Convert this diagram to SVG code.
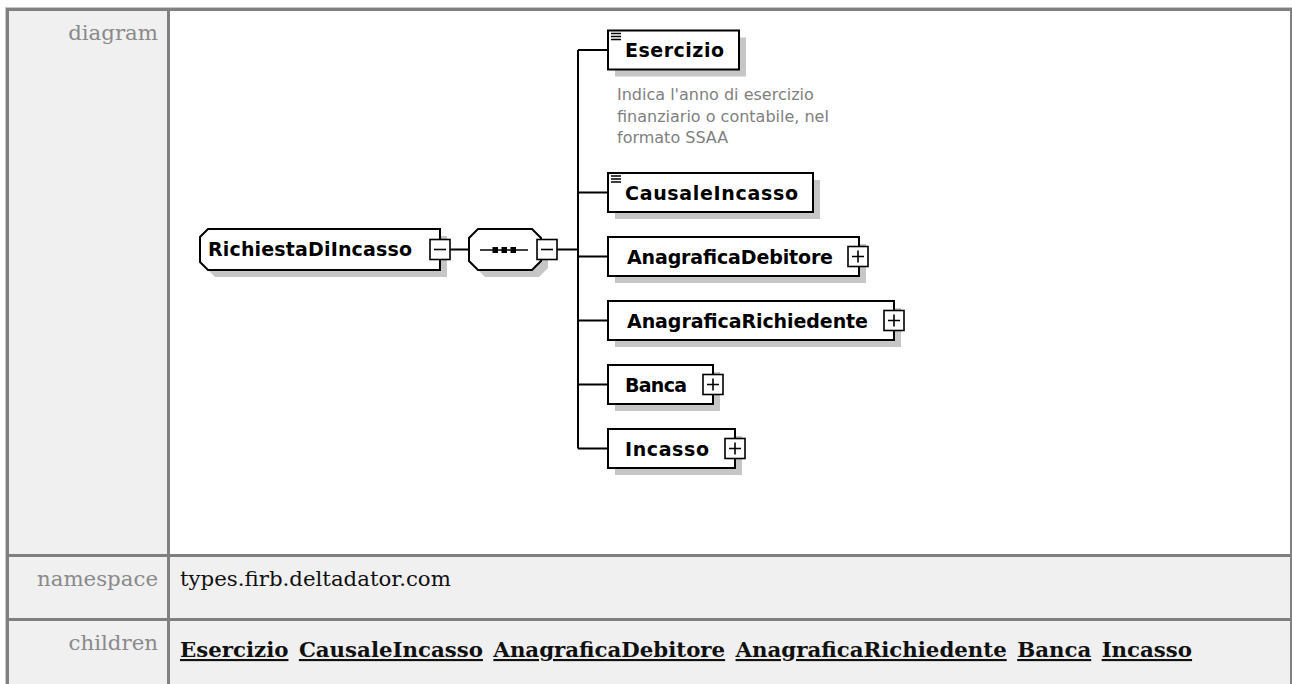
<svg xmlns="http://www.w3.org/2000/svg" width="1292" height="684" viewBox="0 0 1292 684">
  <style>
    .label { font-family: "DejaVu Serif", "Liberation Serif", serif; font-size: 21.3px; fill: #8a8a8a; text-anchor: end; }
    .value { font-family: "DejaVu Serif", "Liberation Serif", serif; font-size: 21.3px; fill: #111; }
    .links { font-family: "DejaVu Serif", "Liberation Serif", serif; font-size: 21.3px; font-weight: bold; fill: #111; word-spacing: 3px; }
    .u { text-decoration: underline; }
    .rule { fill: #808080; }
    .box { fill: #fff; stroke: #000; stroke-width: 2; }
    .shadow { fill: #c6c6c6; }
    .name { font-family: "DejaVu Sans", Verdana, sans-serif; font-size: 19px; font-weight: bold; fill: #000; }
    .note { font-family: "DejaVu Sans", Verdana, sans-serif; font-size: 16px; fill: #808080; }
    .wire { stroke: #000; stroke-width: 2; fill: none; }
    .tog { fill: #fff; stroke: #000; stroke-width: 1.6; }
    .mark { stroke: #000; stroke-width: 1.6; fill: none; }
  </style>

  <!-- table cells -->
  <rect x="6" y="8" width="1286" height="676" fill="#f0f0f0"/>
  <rect x="170" y="11" width="1120" height="543" fill="#fff"/>

  <!-- table rules -->
  <rect x="5" y="7" width="1287" height="1" fill="#c8c8c8"/>
  <rect x="5" y="7" width="1" height="677" fill="#c8c8c8"/>
  <rect class="rule" x="6" y="8" width="1286" height="3"/>
  <rect class="rule" x="6" y="8" width="3" height="676"/>
  <rect class="rule" x="1290" y="8" width="2" height="676"/>
  <rect class="rule" x="167" y="8" width="3" height="676"/>
  <rect class="rule" x="6" y="554" width="1286" height="3"/>
  <rect class="rule" x="6" y="618" width="1286" height="3"/>

  <!-- row labels -->
  <text class="label" x="158" y="40">diagram</text>
  <text class="label" x="158" y="586">namespace</text>
  <text class="label" x="158" y="650">children</text>

  <text class="value" x="180" y="586">types.firb.deltadator.com</text>
  <text class="links" x="180" y="657"><tspan class="u">Esercizio</tspan> <tspan class="u">CausaleIncasso</tspan> <tspan class="u">AnagraficaDebitore</tspan> <tspan class="u">AnagraficaRichiedente</tspan> <tspan class="u">Banca</tspan> <tspan class="u">Incasso</tspan></text>

  <!-- connectors -->
  <g id="connectors">
    <line class="wire" x1="450" y1="249.5" x2="469" y2="249.5"/>
    <line class="wire" x1="557" y1="249.5" x2="578" y2="249.5"/>
    <line class="wire" x1="578" y1="50" x2="578" y2="448.5"/>
    <line class="wire" x1="578" y1="50" x2="608" y2="50"/>
    <line class="wire" x1="578" y1="192.5" x2="608" y2="192.5"/>
    <line class="wire" x1="578" y1="256.5" x2="608" y2="256.5"/>
    <line class="wire" x1="578" y1="320.5" x2="608" y2="320.5"/>
    <line class="wire" x1="578" y1="384.5" x2="608" y2="384.5"/>
    <line class="wire" x1="578" y1="448.5" x2="608" y2="448.5"/>
  </g>

  <!-- root element -->
  <g id="node-RichiestaDiIncasso">
    <path class="shadow" d="M215,236 L447,236 L447,277 L215,277 L207,269 L207,244 Z"/>
    <path class="box" d="M208,229 L440,229 L440,270 L208,270 L200,262 L200,237 Z"/>
    <text class="name" x="208" y="256" textLength="204">RichiestaDiIncasso</text>
    <rect class="tog" x="430" y="239.5" width="20" height="20"/>
    <line class="mark" x1="434" y1="249.5" x2="446" y2="249.5"/>
  </g>

  <!-- sequence compositor -->
  <g id="node-sequence">
    <path class="shadow" d="M485,236 L539,236 L548,245 L548,268 L539,277 L485,277 L476,268 L476,245 Z"/>
    <path class="box" d="M478,229 L532,229 L541,238 L541,261 L532,270 L478,270 L469,261 L469,238 Z"/>
    <line class="mark" x1="480" y1="250" x2="528" y2="250"/>
    <rect x="492.5" y="247" width="5.5" height="6" fill="#000"/>
    <rect x="501.5" y="247" width="5.5" height="6" fill="#000"/>
    <rect x="510.5" y="247" width="5.5" height="6" fill="#000"/>
    <rect class="tog" x="537" y="239.5" width="20" height="20"/>
    <line class="mark" x1="541" y1="249.5" x2="553" y2="249.5"/>
  </g>

  <!-- child elements -->
  <g id="node-Esercizio">
    <rect class="shadow" x="615" y="37.5" width="131" height="39"/>
    <rect class="box" x="608" y="30.5" width="131" height="39"/>
    <path class="mark" d="M611,33.5 H621 M611,36.5 H621 M611,39.5 H621" stroke-width="1.2"/>
    <text class="name" x="625" y="57" textLength="99">Esercizio</text>
    <text class="note" x="617" y="100">Indica l'anno di esercizio</text>
    <text class="note" x="617" y="121.5">finanziario o contabile, nel</text>
    <text class="note" x="617" y="143">formato SSAA</text>
  </g>

  <g id="node-CausaleIncasso">
    <rect class="shadow" x="615" y="180" width="205" height="39"/>
    <rect class="box" x="608" y="173" width="205" height="39"/>
    <path class="mark" d="M611,176 H621 M611,179 H621 M611,182 H621" stroke-width="1.2"/>
    <text class="name" x="625" y="200" textLength="173">CausaleIncasso</text>
  </g>

  <g id="node-AnagraficaDebitore">
    <rect class="shadow" x="615" y="244" width="251" height="39"/>
    <rect class="box" x="608" y="237" width="251" height="39"/>
    <text class="name" x="627" y="264" textLength="206">AnagraficaDebitore</text>
    <rect class="tog" x="848" y="246.5" width="20" height="20"/>
    <path class="mark" d="M852,256.5 H864 M858,250.5 V262.5"/>
  </g>

  <g id="node-AnagraficaRichiedente">
    <rect class="shadow" x="615" y="308" width="286" height="39"/>
    <rect class="box" x="608" y="301" width="286" height="39"/>
    <text class="name" x="627" y="328" textLength="241">AnagraficaRichiedente</text>
    <rect class="tog" x="884" y="310.5" width="20" height="20"/>
    <path class="mark" d="M888,320.5 H900 M894,314.5 V326.5"/>
  </g>

  <g id="node-Banca">
    <rect class="shadow" x="615" y="372" width="105" height="39"/>
    <rect class="box" x="608" y="365" width="105" height="39"/>
    <text class="name" x="625" y="392" textLength="62">Banca</text>
    <rect class="tog" x="703" y="374.5" width="20" height="20"/>
    <path class="mark" d="M707,384.5 H719 M713,378.5 V390.5"/>
  </g>

  <g id="node-Incasso">
    <rect class="shadow" x="615" y="436" width="127" height="39"/>
    <rect class="box" x="608" y="429" width="127" height="39"/>
    <text class="name" x="625" y="456" textLength="84">Incasso</text>
    <rect class="tog" x="725" y="438.5" width="20" height="20"/>
    <path class="mark" d="M729,448.5 H741 M735,442.5 V454.5"/>
  </g>
</svg>
